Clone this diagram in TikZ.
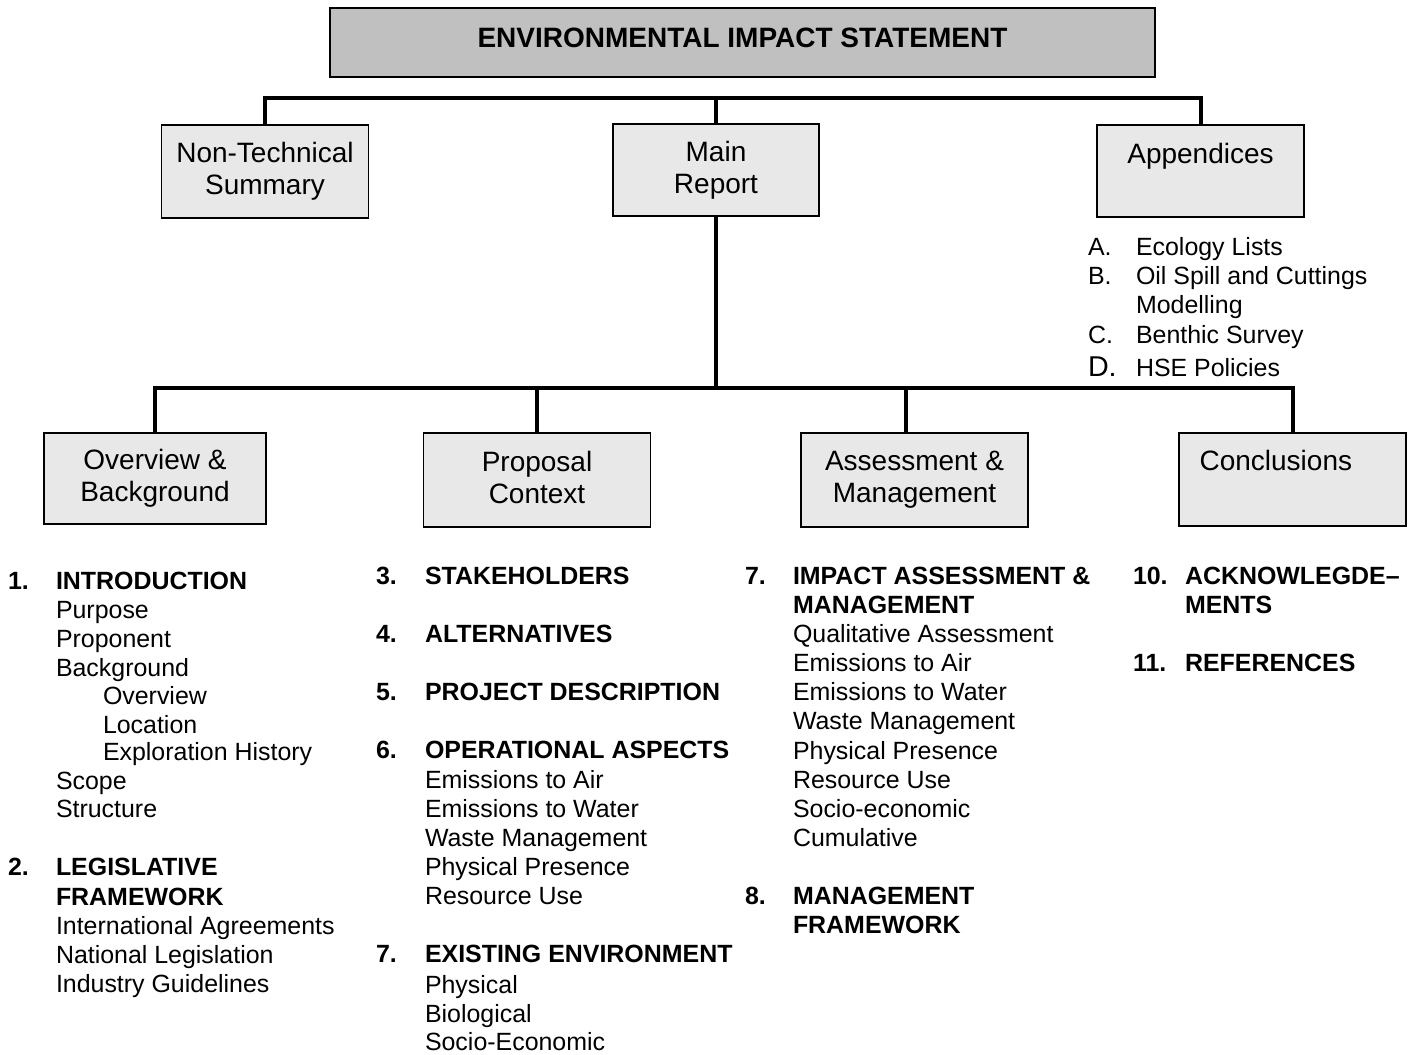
\documentclass[tikz,border=0pt]{standalone}
\usepackage{fontspec}
\setmainfont{Liberation Sans}
\usetikzlibrary{calc}
\definecolor{titlegray}{HTML}{C0C0C0}
\definecolor{boxgray}{HTML}{E8E8E8}
\begin{document}
\begin{tikzpicture}[x=0.75pt,y=-0.75pt,
  every node/.style={inner sep=0pt,outer sep=0pt,font=\fontsize{18.7}{21.75}\selectfont},
  box/.style={draw,line width=1.3pt,fill=boxgray,align=center,font=\fontsize{21}{24}\selectfont},
  titlebox/.style={draw,line width=1.3pt,fill=titlegray,font=\bfseries\fontsize{21}{24}\selectfont,
    minimum width=618.75pt,minimum height=51.75pt,text height=15pt,text depth=8.2pt},
  bus/.style={line width=3pt,line join=miter},
  itm/.style={anchor=base west},
  hd/.style={anchor=base west,font=\bfseries\fontsize{18.7}{21.75}\selectfont}]
\useasboundingbox (0,0) rectangle (1417,1054);
% title
\node[titlebox] (title) at (742.5,42.5) {ENVIRONMENTAL IMPACT STATEMENT};
% first level
\node[box,minimum width=155.25pt,minimum height=69.75pt] (nts) at (265,171.5) {Non-Technical\\Summary};
\node[box,minimum width=154.5pt,minimum height=69pt] (main) at (716,170) {Main\\Report};
\node[box,minimum width=155.25pt,minimum height=69pt,text height=15pt,text depth=27pt] (app) at (1200.5,171) {Appendices};
% second level
\node[box,minimum width=166.5pt,minimum height=68.25pt] (ov) at (155,478.5) {Overview \&\\Background};
\node[box,minimum width=170.25pt,minimum height=70.5pt] (prop) at (537,480) {Proposal\\Context\vphantom{g}};
\node[box,minimum width=170.25pt,minimum height=70.5pt] (ass) at (914.5,480) {Assessment \&\\Management};
\node[box,minimum width=170.25pt,minimum height=69.75pt,text height=15pt,text depth=29pt] (conc) at (1292.5,479.5) {Conclusions\hspace*{25pt}};
% buses
\coordinate (tbus) at (0,98);
\coordinate (lbus) at (0,388);
\coordinate (assc) at ($(ass.north)+(-8.5,0)$);
\draw[bus] (nts.north) -- (nts.north |- tbus) -- (app.north |- tbus) -- (app.north);
\draw[bus] (main.north) -- (main.north |- tbus);
\draw[bus] (ov.north) -- (ov.north |- lbus) -- (conc.north |- lbus) -- (conc.north);
\draw[bus] (main.south) -- (main.south |- lbus);
\draw[bus] (prop.north) -- (prop.north |- lbus);
\draw[bus] (assc) -- (assc |- lbus);
% appendices list
\node[itm] (aA) at (1088,255) {A.};
\node[itm] (aAt) at (1136,255) {Ecology Lists};
\node[itm] (aB) at (1088,284) {B.};
\node[itm] (aBt) at (1136,284) {Oil Spill and Cuttings};
\node[itm] (aBt2) at (1136,313) {Modelling};
\node[itm] (aC) at (1088,343) {C.};
\node[itm] (aCt) at (1136,343) {Benthic Survey};
\node[itm,font=\fontsize{21.5}{24}\selectfont] (aD) at (1088,376) {D.};
\node[itm] (aDt) at (1136,376) {HSE Policies};
% column 1
\node[hd] (n1) at (8,589) {1.};
\node[hd] (c1a) at (56,589) {INTRODUCTION};
\node[itm] (c1b) at (56,618) {Purpose};
\node[itm] (c1c) at (56,647) {Proponent};
\node[itm] (c1d) at (56,676) {Background};
\node[itm] (c1e) at (103,704) {Overview};
\node[itm] (c1f) at (103,733) {Location};
\node[itm] (c1g) at (103,760) {Exploration History};
\node[itm] (c1h) at (56,789) {Scope};
\node[itm] (c1i) at (56,817) {Structure};
\node[hd] (n2) at (8,875) {2.};
\node[hd] (c1j) at (56,875) {LEGISLATIVE};
\node[hd] (c1k) at (56,905) {FRAMEWORK};
\node[itm] (c1l) at (56,934) {International Agreements};
\node[itm] (c1m) at (56,963) {National Legislation};
\node[itm] (c1n) at (56,992) {Industry Guidelines};
% column 2
\node[hd] (n3) at (376,584) {3.};
\node[hd] (c2a) at (425,584) {STAKEHOLDERS};
\node[hd] (n4) at (376,642) {4.};
\node[hd] (c2b) at (425,642) {ALTERNATIVES};
\node[hd] (n5) at (376,700) {5.};
\node[hd] (c2c) at (425,700) {PROJECT DESCRIPTION};
\node[hd] (n6) at (376,758) {6.};
\node[hd] (c2d) at (425,758) {OPERATIONAL ASPECTS};
\node[itm] (c2e) at (425,788) {Emissions to Air};
\node[itm] (c2f) at (425,817) {Emissions to Water};
\node[itm] (c2g) at (425,846) {Waste Management};
\node[itm] (c2h) at (425,875) {Physical Presence};
\node[itm] (c2i) at (425,904) {Resource Use};
\node[hd] (n7a) at (376,962) {7.};
\node[hd] (c2j) at (425,962) {EXISTING ENVIRONMENT};
\node[itm] (c2k) at (425,993) {Physical};
\node[itm] (c2l) at (425,1022) {Biological};
\node[itm] (c2m) at (425,1050) {Socio-Economic};
% column 3
\node[hd] (n7b) at (745,584) {7.};
\node[hd] (c3a) at (793,584) {IMPACT ASSESSMENT \&};
\node[hd] (c3b) at (793,613) {MANAGEMENT};
\node[itm] (c3c) at (793,642) {Qualitative Assessment};
\node[itm] (c3d) at (793,671) {Emissions to Air};
\node[itm] (c3e) at (793,700) {Emissions to Water};
\node[itm] (c3f) at (793,729) {Waste Management};
\node[itm] (c3g) at (793,759) {Physical Presence};
\node[itm] (c3h) at (793,788) {Resource Use};
\node[itm] (c3i) at (793,817) {Socio-economic};
\node[itm] (c3j) at (793,846) {Cumulative};
\node[hd] (n8) at (745,904) {8.};
\node[hd] (c3k) at (793,904) {MANAGEMENT};
\node[hd] (c3l) at (793,933) {FRAMEWORK};
% column 4
\node[hd] (n10) at (1133,584) {10.};
\node[hd] (c4a) at (1185,584) {ACKNOWLEGDE–};
\node[hd] (c4b) at (1185,613) {MENTS};
\node[hd] (n11) at (1133,671) {11.};
\node[hd] (c4c) at (1185,671) {REFERENCES};
\end{tikzpicture}
\end{document}
